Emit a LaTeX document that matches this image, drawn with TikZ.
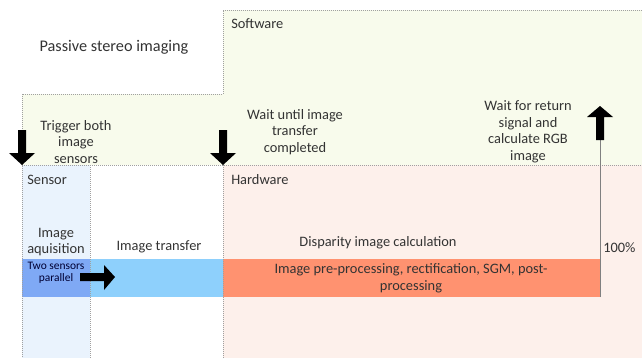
\documentclass[tikz,border=0pt]{standalone}
\usepackage{fontspec}
\setmainfont{Carlito}
\definecolor{swfill}{HTML}{F8FBEC}
\definecolor{senfill}{HTML}{EAF3FD}
\definecolor{hwfill}{HTML}{FDF0EB}
\definecolor{bluebar}{HTML}{8ED0FC}
\definecolor{darkbar}{HTML}{7FA9F5}
\definecolor{orangebar}{HTML}{FF9270}
\definecolor{txt}{HTML}{333333}
\definecolor{dotc}{HTML}{A0A0A0}
\tikzset{
  zone/.style={draw=dotc, densely dotted, line width=0.5pt},
  lbl/.style={inner sep=0pt, text=txt, font=\fontsize{10.8}{12.4}\selectfont, align=center},
  hdr/.style={inner sep=0pt, text=txt, font=\fontsize{10.8}{12.4}\selectfont, anchor=west},
  blockarrow/.style={fill=black, draw=none}
}
\begin{document}
\begin{tikzpicture}[x=0.75pt,y=-0.75pt]
\useasboundingbox (0,0) rectangle (642,358);
% fills
\fill[swfill] (223,10) -- (642,10) -- (642,165) -- (22,165) -- (22,94) -- (223,94) -- cycle;
\fill[senfill] (22,165) rectangle (90,358);
\fill[hwfill] (223,165) rectangle (642,358);
% bars
\fill[bluebar] (22,259) rectangle (223,297);
\fill[darkbar] (22,259) rectangle (90,297);
\fill[orangebar] (223,259) rectangle (600,297);
% zone borders
\draw[zone] (642,10) -- (223,10) -- (223,94) -- (22,94) -- (22,358);
\draw[zone] (22,165) -- (642,165);
\draw[zone] (90,165) -- (90,358);
\draw[zone] (223,165) -- (223,358);
% texts
\node[inner sep=0pt, text=txt, font=\fontsize{12.2}{14}\selectfont] (title) at (114,47) {Passive stereo imaging};
\node[hdr] (sw) at (231,24) {Software};
\node[hdr] (sen) at (27,180) {Sensor};
\node[hdr] (hw) at (231,180) {Hardware};
\node[lbl] (trig) at (76,142) {Trigger both\\image\\sensors};
\node[lbl] (wait1) at (295,132) {Wait until image\\transfer\\completed};
\node[lbl] (wait2) at (528,132) {Wait for return\\signal and\\calculate RGB\\image};
\node[lbl] (acq) at (56,242) {Image\\aquisition};
\node[lbl] (trans) at (159,247) {Image transfer};
\node[lbl] (disp) at (378,243) {Disparity image calculation};
\node[inner sep=0pt, text=black!80!blue, font=\fontsize{8.6}{9.2}\selectfont, align=center] (two) at (56,273) {Two sensors\\parallel};
\node[lbl] (proc) at (411,278) {Image pre-processing, rectification, SGM, post-\\processing};
\node[hdr] (pct) at (603,248) {100\%};
% return line
\coordinate (retb) at (600,297);
\coordinate (rett) at (600,140);
\draw[gray, line width=0.6pt] (retb) -- (rett);
% block arrows
\fill[blockarrow] (596,140) -- (604,140) -- (604,117) -- (613,117) -- (600,106) -- (587,117) -- (596,117) -- cycle;
\fill[blockarrow] (18,130) -- (26,130) -- (26,153) -- (35,153) -- (22,165) -- (9,153) -- (18,153) -- cycle;
\fill[blockarrow] (219,130) -- (227,130) -- (227,153) -- (236,153) -- (223,165) -- (210,153) -- (219,153) -- cycle;
\fill[blockarrow] (80,273) -- (104,273) -- (104,265) -- (115,277) -- (104,290) -- (104,281) -- (80,281) -- cycle;
\end{tikzpicture}
\end{document}
